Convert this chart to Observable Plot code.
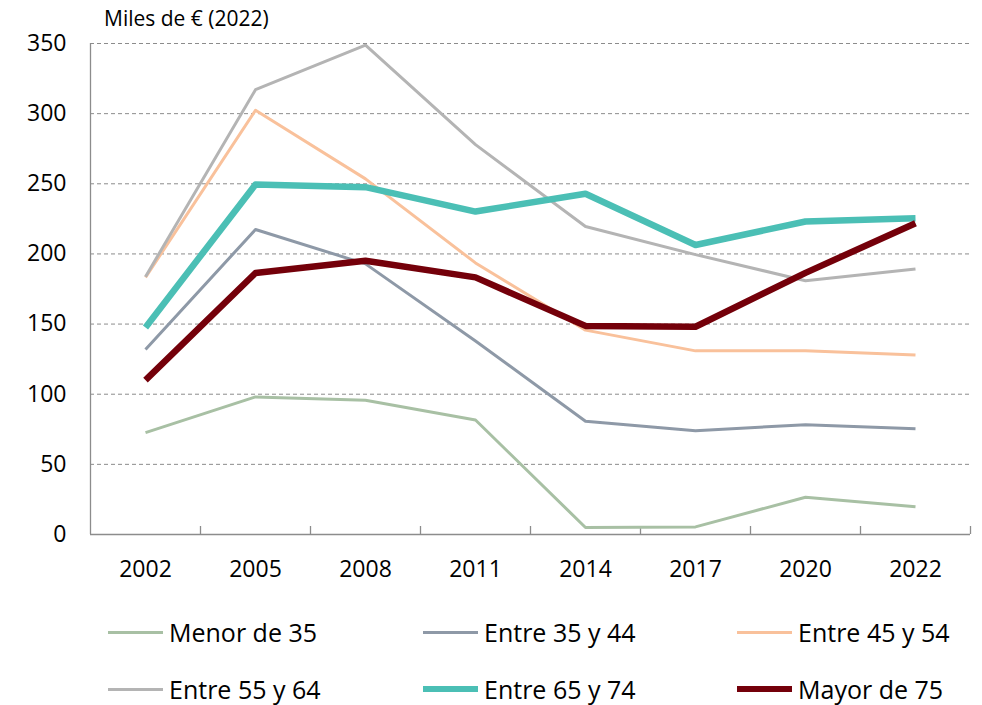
<!DOCTYPE html>
<html>
<head>
<meta charset="utf-8">
<script src="https://cdn.jsdelivr.net/npm/d3@7"></script>
<script src="https://cdn.jsdelivr.net/npm/@observablehq/plot@0.6"></script>
<style>
  body { margin: 0; background: #fff; font-family: "Open Sans", sans-serif; }
  #wrap { position: relative; width: 982px; height: 705px; }
  #title { position: absolute; left: 104px; top: 4px; font-size: 21px; color: #000; white-space: nowrap; }
  .leg { position: absolute; display: flex; align-items: center; font-size: 25px; color: #000; white-space: nowrap; }
  .leg .sw { width: 55px; margin-right: 6px; }
</style>
</head>
<body>
<div id="wrap">
  <div id="chart"></div>
  <div id="title">Miles de € (2022)</div>
  <div id="legend"></div>
</div>
<script>
const years = ["2002", "2005", "2008", "2011", "2014", "2017", "2020", "2022"];
const yTicks = [0, 50, 100, 150, 200, 250, 300, 350];
const seriesNames = ["Menor de 35", "Entre 35 y 44", "Entre 45 y 54", "Entre 55 y 64", "Entre 65 y 74", "Mayor de 75"];
const menor35   = [72.6, 98.1, 95.7, 81.6, 5.0, 5.4, 26.6, 19.7];
const entre3544 = [131.9, 217.4, 192.9, 138.0, 80.7, 74.0, 78.3, 75.4];
const entre4554 = [183.3, 302.4, 253.5, 193.6, 145.7, 130.9, 131.0, 128.0];
const entre5564 = [183.8, 317.1, 348.8, 277.9, 219.5, 199.5, 180.9, 189.3];
const entre6574 = [147.6, 249.5, 247.6, 230.2, 242.9, 206.4, 223.1, 225.4];
const mayor75   = [110.0, 186.4, 195.2, 183.3, 148.7, 148.1, 186.5, 221.9];
const seriesValues = [menor35, entre3544, entre4554, entre5564, entre6574, mayor75];
const colors = ["#a8c0a4", "#8e99a7", "#f9c19b", "#b4b4b4", "#4bbfb5", "#74000a"];
const widths = [3, 3, 3, 3, 6.5, 6.5];

const W = 982, H = 600;
const axisColor = "#8c8c8c";

const idx = years.map((_, i) => i);
const boundaries = years.map((_, i) => i + 0.5);

const lineMarks = seriesNames.map((name, s) =>
  Plot.line(seriesValues[s].map((v, i) => ({i, v, name})), {
    x: "i", y: "v", stroke: colors[s], strokeWidth: widths[s],
    strokeLinecap: "butt", strokeLinejoin: "round"
  })
);

const chart = Plot.plot({
  width: W,
  height: H,
  marginLeft: 90,
  marginRight: 12,
  marginTop: 43,
  marginBottom: H - 534,
  style: { fontFamily: "Open Sans, sans-serif", fontSize: "23px", color: "#000", background: "#fff" },
  x: { type: "linear", domain: [-0.5, years.length - 0.5] },
  y: { domain: [0, 350] },
  marks: [
    Plot.ruleY(yTicks.filter(d => d > 0), { stroke: axisColor, strokeWidth: 1, strokeDasharray: "4,3" }),
    Plot.ruleY([0], { stroke: axisColor, strokeWidth: 1.3 }),
    Plot.ruleX([-0.5], { y1: 0, y2: 350, stroke: axisColor, strokeWidth: 1.3 }),
    Plot.ruleX(boundaries, { y1: 0, y2: 5.7, stroke: axisColor, strokeWidth: 1.3 }),
    ...lineMarks,
    Plot.axisX({ ticks: idx, tickFormat: i => years[i], tickSize: 0, tickPadding: 26, label: null, fontSize: 23 }),
    Plot.axisY({ ticks: yTicks, tickFormat: d => String(d), tickSize: 0, tickPadding: 24, label: null, fontSize: 23 })
  ]
});
document.getElementById("chart").appendChild(chart);

// Legend (HTML below the SVG)
const legPos = [[108, 632], [423, 632], [737, 632], [108, 689], [423, 689], [737, 689]];
const legend = document.getElementById("legend");
seriesNames.forEach((name, s) => {
  const d = document.createElement("div");
  d.className = "leg";
  d.style.left = legPos[s][0] + "px";
  d.style.top = (legPos[s][1] - 17) + "px";
  d.style.height = "34px";
  const sw = document.createElement("div");
  sw.className = "sw";
  sw.style.height = widths[s] + "px";
  sw.style.background = colors[s];
  const t = document.createElement("span");
  t.textContent = name;
  d.appendChild(sw);
  d.appendChild(t);
  legend.appendChild(d);
});
</script>
</body>
</html>
